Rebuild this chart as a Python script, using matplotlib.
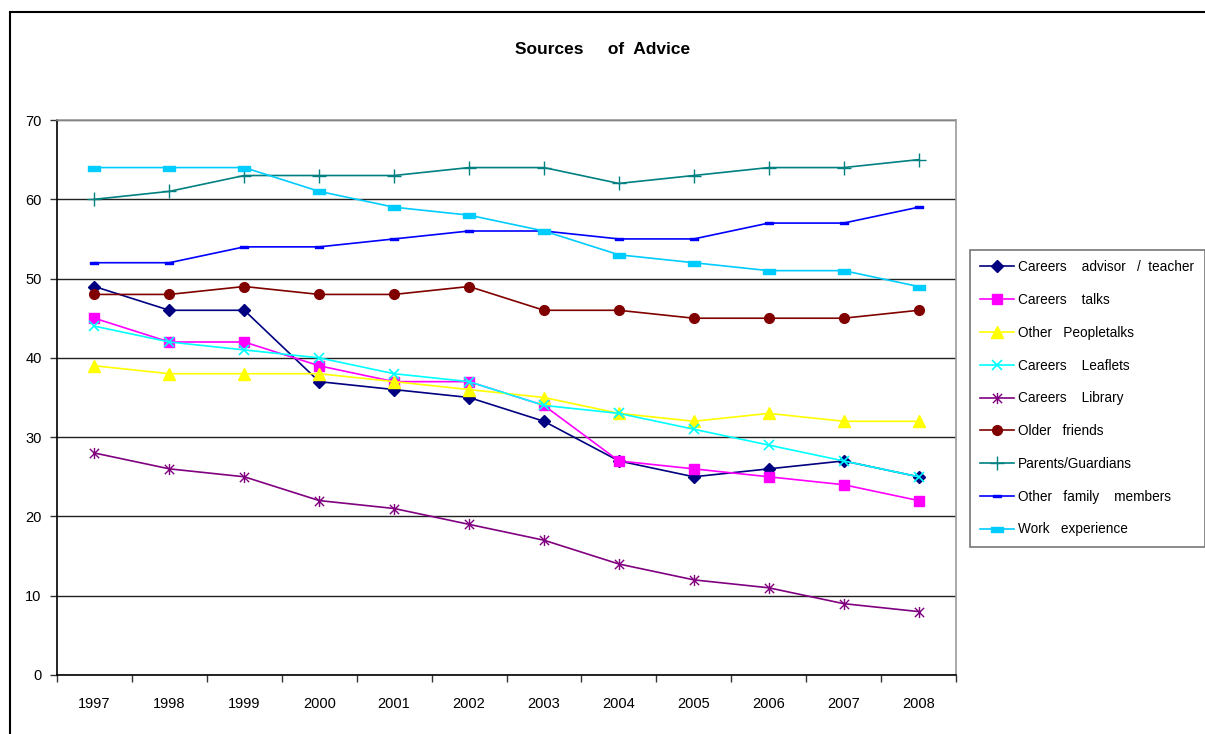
import matplotlib
matplotlib.use("Agg")
import matplotlib.pyplot as plt
from matplotlib import font_manager
from matplotlib.path import Path
from matplotlib.patches import Rectangle
import numpy as np

# --- data -------------------------------------------------------------
years = ["1997", "1998", "1999", "2000", "2001", "2002",
         "2003", "2004", "2005", "2006", "2007", "2008"]

careers_advisor = [49, 46, 46, 37, 36, 35, 32, 27, 25, 26, 27, 25]
careers_talks = [45, 42, 42, 39, 37, 37, 34, 27, 26, 25, 24, 22]
other_people_talks = [39, 38, 38, 38, 37, 36, 35, 33, 32, 33, 32, 32]
careers_leaflets = [44, 42, 41, 40, 38, 37, 34, 33, 31, 29, 27, 25]
careers_library = [28, 26, 25, 22, 21, 19, 17, 14, 12, 11, 9, 8]
older_friends = [48, 48, 49, 48, 48, 49, 46, 46, 45, 45, 45, 46]
parents_guardians = [60, 61, 63, 63, 63, 64, 64, 62, 63, 64, 64, 65]
other_family = [52, 52, 54, 54, 55, 56, 56, 55, 55, 57, 57, 59]
work_experience = [64, 64, 64, 61, 59, 58, 56, 53, 52, 51, 51, 49]

series_labels = [
    "Careers    advisor   /  teacher",
    "Careers    talks",
    "Other   Peopletalks",
    "Careers    Leaflets",
    "Careers    Library",
    "Older   friends",
    "Parents/Guardians",
    "Other   family    members",
    "Work   experience",
]

# --- fonts ------------------------------------------------------------
available = {f.name for f in font_manager.fontManager.ttflist}
family = [f for f in ["Liberation Sans Narrow", "Liberation Sans", "DejaVu Sans"]
          if f in available]
plt.rcParams["font.family"] = family

# --- custom markers ---------------------------------------------------
asterisk = Path([(-1, -1), (1, 1), (-1, 1), (1, -1), (0, -1.2), (0, 1.2)],
                [Path.MOVETO, Path.LINETO, Path.MOVETO, Path.LINETO,
                 Path.MOVETO, Path.LINETO])
dash_small = Path([(-1, -0.35), (1, -0.35), (1, 0.35), (-1, 0.35), (-1, -0.35)],
                  [Path.MOVETO, Path.LINETO, Path.LINETO, Path.LINETO, Path.CLOSEPOLY])
dash_wide = Path([(-1, -0.4), (1, -0.4), (1, 0.4), (-1, 0.4), (-1, -0.4)],
                 [Path.MOVETO, Path.LINETO, Path.LINETO, Path.LINETO, Path.CLOSEPOLY])

styles = [
    dict(color="#000080", marker="D", ms=6),
    dict(color="#FF00FF", marker="s", ms=7),
    dict(color="#FFFF00", marker="^", ms=8),
    dict(color="#00FFFF", marker="x", ms=7, mew=1.2),
    dict(color="#800080", marker=asterisk, ms=8, mew=1.0, mfc="none"),
    dict(color="#800000", marker="o", ms=7),
    dict(color="#008080", marker="+", ms=10, mew=1.0),
    dict(color="#0000FF", marker=dash_small, ms=6),
    dict(color="#00CCFF", marker=dash_wide, ms=9),
]

all_series = [careers_advisor, careers_talks, other_people_talks, careers_leaflets,
              careers_library, older_friends, parents_guardians, other_family,
              work_experience]

# --- figure -----------------------------------------------------------
W, H = 1205, 734
fig = plt.figure(figsize=(W / 100, H / 100), dpi=100)
fig.patch.set_facecolor("white")

# outer chart frame
fig.patches.append(Rectangle((10 / W, -0.05), 1.2, 1 - 12 / H + 0.05,
                             transform=fig.transFigure, fill=False,
                             edgecolor="black", linewidth=1.5, zorder=0))

left, right, top, bottom = 57, 956, 120, 675
ax = fig.add_axes([left / W, 1 - bottom / H, (right - left) / W, (bottom - top) / H])

x = np.arange(len(years))
for vals, lab, st in zip(all_series, series_labels, styles):
    ax.plot(x, vals, label=lab, linewidth=1.2, clip_on=False,
            color=st["color"], marker=st["marker"], markersize=st["ms"],
            markeredgewidth=st.get("mew", 1.0),
            markerfacecolor=st.get("mfc", st["color"]),
            markeredgecolor=st["color"])

ax.set_xlim(-0.5, len(years) - 0.5)
ax.set_ylim(0, 70)
ax.set_yticks(range(0, 71, 10))
ax.set_yticklabels([str(v) for v in range(0, 71, 10)], fontsize=10.5)
ax.yaxis.grid(True, color="#222222", linewidth=1.0)
ax.set_axisbelow(True)

ax.set_xticks(np.arange(-0.5, len(years), 1.0))
ax.set_xticklabels([])
ax.set_xticks(x, minor=True)
ax.set_xticklabels(years, minor=True, fontsize=10.5)
ax.tick_params(axis="x", which="minor", length=0, pad=16)
ax.tick_params(axis="x", which="major", length=5, width=1, direction="out", color="#333333")
ax.tick_params(axis="y", length=5, width=1, direction="out", pad=6, color="#333333")

for side in ("top", "right"):
    ax.spines[side].set_color("#999999")
    ax.spines[side].set_linewidth(1.2)
for side in ("left", "bottom"):
    ax.spines[side].set_color("black")
    ax.spines[side].set_linewidth(1.2)

fig.text(603 / W, 1 - 49 / H, "Sources     of  Advice", ha="center", va="center",
         fontsize=12.5, fontweight="bold")

leg = fig.legend(loc="upper left", bbox_to_anchor=(970 / W, 1 - 250 / H),
                 frameon=True, fancybox=False, fontsize=9.8,
                 handlelength=2.5, handletextpad=0.3, labelspacing=1.38,
                 borderpad=0.75, borderaxespad=0)
leg.get_frame().set_edgecolor("#555555")
leg.get_frame().set_linewidth(1.2)

fig.savefig("out.png", dpi=100, facecolor="white")
